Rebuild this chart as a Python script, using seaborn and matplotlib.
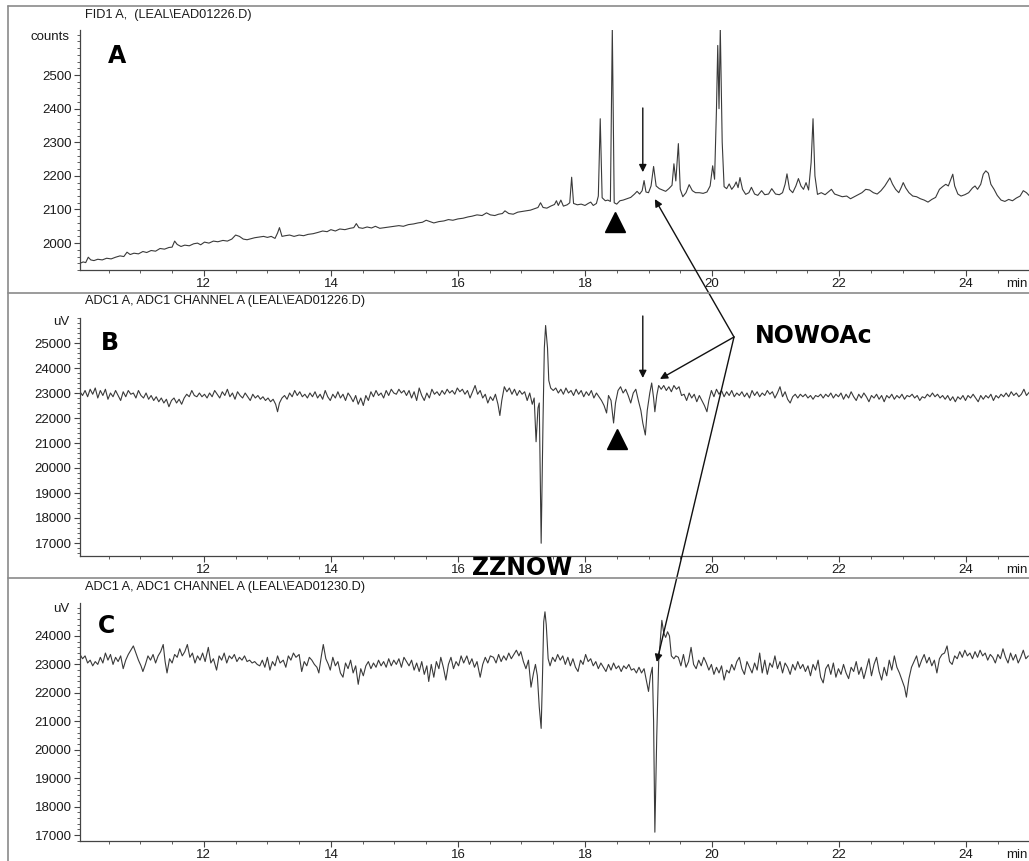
import matplotlib
matplotlib.use('Agg')
import matplotlib.pyplot as plt
from matplotlib.ticker import MultipleLocator
from matplotlib.lines import Line2D
import seaborn as sns
import pandas as pd

# ---------------- data (retention time [min], signal) ----------------
fid_points = [
    (10.05, 1940), (10.10, 1944), (10.14, 1942), (10.18, 1958), (10.22, 1950), (10.27, 1948), (10.33, 1952),
    (10.40, 1950), (10.47, 1955), (10.54, 1953), (10.61, 1958), (10.68, 1962), (10.74, 1960), (10.79, 1973),
    (10.84, 1966), (10.90, 1970), (10.97, 1968), (11.04, 1975), (11.10, 1972), (11.17, 1978), (11.24, 1976),
    (11.31, 1984), (11.38, 1982), (11.45, 1987), (11.50, 1988), (11.54, 2006), (11.58, 1996), (11.64, 1990),
    (11.70, 1994), (11.77, 1992), (11.84, 1998), (11.90, 2000), (11.95, 1995), (12.01, 2003), (12.08, 2000),
    (12.15, 2006), (12.22, 2004), (12.30, 2008), (12.37, 2006), (12.44, 2012), (12.50, 2024), (12.56, 2020),
    (12.62, 2012), (12.68, 2010), (12.74, 2013), (12.80, 2016), (12.87, 2018), (12.94, 2020), (13.00, 2017),
    (13.06, 2020), (13.12, 2014), (13.16, 2030), (13.19, 2046), (13.23, 2020), (13.28, 2022), (13.35, 2024),
    (13.42, 2020), (13.50, 2024), (13.57, 2022), (13.64, 2026), (13.72, 2028), (13.80, 2032), (13.87, 2036),
    (13.94, 2034), (14.00, 2040), (14.07, 2036), (14.14, 2042), (14.22, 2040), (14.30, 2044), (14.36, 2046),
    (14.40, 2058), (14.44, 2046), (14.50, 2044), (14.57, 2048), (14.64, 2045), (14.70, 2050), (14.77, 2044),
    (14.84, 2046), (14.92, 2048), (15.00, 2050), (15.07, 2052), (15.14, 2050), (15.22, 2055), (15.30, 2057),
    (15.37, 2060), (15.44, 2062), (15.50, 2068), (15.56, 2064), (15.62, 2060), (15.70, 2064), (15.78, 2066),
    (15.85, 2070), (15.92, 2068), (16.00, 2072), (16.08, 2074), (16.16, 2078), (16.22, 2080), (16.30, 2084),
    (16.38, 2082), (16.45, 2090), (16.51, 2084), (16.58, 2082), (16.64, 2086), (16.70, 2088), (16.74, 2096),
    (16.80, 2088), (16.87, 2086), (16.94, 2092), (17.00, 2094), (17.07, 2096), (17.14, 2098), (17.20, 2102),
    (17.26, 2106), (17.30, 2120), (17.34, 2106), (17.40, 2104), (17.46, 2110), (17.52, 2115), (17.55, 2126),
    (17.58, 2112), (17.62, 2128), (17.66, 2110), (17.72, 2114), (17.76, 2120), (17.79, 2196), (17.82, 2118),
    (17.88, 2114), (17.94, 2116), (18.00, 2112), (18.05, 2118), (18.09, 2122), (18.13, 2112), (18.18, 2118),
    (18.21, 2140), (18.24, 2370), (18.27, 2135), (18.32, 2126), (18.36, 2128), (18.40, 2124), (18.43, 2640),
    (18.46, 2120), (18.50, 2116), (18.55, 2126), (18.60, 2128), (18.66, 2132), (18.72, 2136), (18.78, 2146),
    (18.82, 2154), (18.86, 2146), (18.90, 2156), (18.93, 2186), (18.96, 2152), (19.00, 2150), (19.04, 2170),
    (19.08, 2228), (19.12, 2170), (19.17, 2162), (19.22, 2158), (19.27, 2154), (19.32, 2162), (19.37, 2172),
    (19.40, 2236), (19.43, 2185), (19.47, 2296), (19.50, 2160), (19.54, 2138), (19.59, 2150), (19.64, 2174),
    (19.69, 2156), (19.74, 2150), (19.80, 2150), (19.86, 2148), (19.92, 2152), (19.97, 2170), (20.01, 2230),
    (20.04, 2190), (20.07, 2400), (20.09, 2588), (20.11, 2400), (20.13, 2640), (20.16, 2300), (20.19, 2168),
    (20.23, 2162), (20.27, 2176), (20.31, 2160), (20.35, 2170), (20.38, 2182), (20.41, 2165), (20.44, 2195),
    (20.48, 2160), (20.53, 2145), (20.58, 2150), (20.62, 2166), (20.67, 2146), (20.72, 2142), (20.78, 2156),
    (20.83, 2144), (20.89, 2146), (20.94, 2162), (21.00, 2146), (21.06, 2144), (21.11, 2150), (21.15, 2175),
    (21.18, 2206), (21.22, 2160), (21.27, 2150), (21.32, 2170), (21.36, 2192), (21.40, 2170), (21.44, 2160),
    (21.48, 2180), (21.52, 2158), (21.56, 2240), (21.59, 2370), (21.62, 2200), (21.66, 2145), (21.72, 2150),
    (21.78, 2144), (21.83, 2152), (21.88, 2160), (21.93, 2146), (21.99, 2142), (22.05, 2138), (22.12, 2140),
    (22.18, 2132), (22.24, 2138), (22.30, 2144), (22.36, 2150), (22.42, 2160), (22.48, 2158), (22.54, 2150),
    (22.60, 2146), (22.66, 2156), (22.72, 2170), (22.77, 2185), (22.80, 2194), (22.84, 2176), (22.89, 2160),
    (22.94, 2150), (22.98, 2166), (23.01, 2180), (23.05, 2164), (23.10, 2150), (23.16, 2140), (23.22, 2138),
    (23.28, 2132), (23.34, 2128), (23.40, 2122), (23.46, 2130), (23.52, 2136), (23.58, 2160), (23.63, 2168),
    (23.68, 2175), (23.72, 2170), (23.76, 2190), (23.79, 2205), (23.82, 2170), (23.87, 2146), (23.92, 2140),
    (23.98, 2144), (24.04, 2150), (24.10, 2164), (24.14, 2170), (24.18, 2160), (24.23, 2175), (24.27, 2205),
    (24.31, 2215), (24.35, 2208), (24.39, 2175), (24.44, 2160), (24.49, 2142), (24.55, 2128), (24.61, 2124),
    (24.67, 2130), (24.73, 2126), (24.79, 2134), (24.85, 2140), (24.90, 2156), (24.95, 2150), (25.00, 2140),
]

ead1_points = [
    (10.05, 23050), (10.09, 22900), (10.13, 23100), (10.17, 22850), (10.21, 23150), (10.25, 22950), (10.29, 23200),
    (10.33, 22800), (10.37, 23100), (10.41, 22900), (10.45, 23150), (10.49, 22750), (10.53, 23000), (10.57, 22850),
    (10.61, 23100), (10.65, 22900), (10.69, 22700), (10.73, 23050), (10.77, 22850), (10.81, 23100), (10.85, 22950),
    (10.89, 23000), (10.93, 22800), (10.97, 23100), (11.01, 22900), (11.05, 22800), (11.09, 23000), (11.13, 22750),
    (11.17, 22900), (11.21, 22700), (11.25, 22850), (11.29, 22650), (11.33, 22800), (11.37, 22600), (11.41, 22750),
    (11.45, 22450), (11.49, 22700), (11.53, 22800), (11.57, 22600), (11.61, 22750), (11.65, 22550), (11.69, 22800),
    (11.73, 22950), (11.77, 22850), (11.81, 23100), (11.85, 22900), (11.89, 22850), (11.93, 23000), (11.97, 22850),
    (12.01, 22950), (12.05, 22800), (12.09, 23000), (12.13, 22850), (12.17, 23100), (12.21, 22950), (12.25, 22800),
    (12.29, 23050), (12.33, 22900), (12.37, 23150), (12.41, 22850), (12.45, 23000), (12.49, 22750), (12.53, 23050),
    (12.57, 22900), (12.61, 22800), (12.65, 23000), (12.69, 22850), (12.73, 22700), (12.77, 22950), (12.81, 22800),
    (12.85, 22900), (12.89, 22750), (12.93, 22850), (12.97, 22700), (13.01, 22800), (13.05, 22650), (13.09, 22750),
    (13.13, 22550), (13.16, 22250), (13.19, 22600), (13.23, 22800), (13.27, 22900), (13.31, 22750), (13.35, 23000),
    (13.39, 22850), (13.43, 23100), (13.47, 22900), (13.51, 23050), (13.55, 22850), (13.59, 22950), (13.63, 22800),
    (13.67, 23000), (13.71, 22850), (13.75, 23050), (13.79, 22800), (13.83, 22950), (13.87, 22750), (13.91, 23100),
    (13.95, 22850), (13.99, 22700), (14.03, 22950), (14.07, 22800), (14.11, 23050), (14.15, 22800), (14.19, 22950),
    (14.23, 22700), (14.27, 23000), (14.31, 22850), (14.35, 22650), (14.39, 22900), (14.43, 22550), (14.47, 22800),
    (14.51, 22500), (14.55, 22900), (14.59, 22700), (14.63, 23050), (14.67, 22850), (14.71, 23100), (14.75, 22900),
    (14.79, 23000), (14.83, 22800), (14.87, 23100), (14.91, 22900), (14.95, 23150), (14.99, 23000), (15.03, 22950),
    (15.07, 23150), (15.11, 23000), (15.15, 23100), (15.19, 22900), (15.23, 23100), (15.27, 22800), (15.31, 23050),
    (15.35, 22700), (15.39, 23200), (15.43, 22900), (15.47, 22700), (15.51, 23000), (15.55, 22800), (15.59, 23150),
    (15.63, 22950), (15.67, 23050), (15.71, 22900), (15.75, 23100), (15.79, 22950), (15.83, 23150), (15.87, 23000),
    (15.91, 23100), (15.95, 22950), (15.99, 23200), (16.03, 23050), (16.07, 23150), (16.11, 22950), (16.15, 23100),
    (16.19, 22800), (16.23, 23050), (16.27, 23300), (16.31, 22950), (16.35, 23100), (16.39, 22800), (16.43, 22950),
    (16.47, 22600), (16.51, 22850), (16.55, 22700), (16.59, 22950), (16.63, 22550), (16.66, 22100), (16.69, 22700),
    (16.73, 23250), (16.77, 23050), (16.81, 23200), (16.85, 22950), (16.89, 23150), (16.93, 22900), (16.97, 23100),
    (17.01, 22950), (17.05, 23050), (17.09, 22700), (17.13, 23000), (17.17, 22550), (17.20, 22800), (17.23, 21050),
    (17.26, 22400), (17.28, 22600), (17.31, 16990), (17.34, 22000), (17.36, 24800), (17.38, 25700), (17.41, 24800),
    (17.43, 23500), (17.46, 23200), (17.50, 23100), (17.54, 23200), (17.58, 23000), (17.62, 23150), (17.66, 22950),
    (17.70, 23200), (17.74, 23000), (17.78, 23100), (17.82, 22900), (17.86, 23150), (17.90, 22950), (17.94, 23100),
    (17.98, 22850), (18.02, 23050), (18.06, 22900), (18.10, 23100), (18.14, 22800), (18.18, 23000), (18.22, 22850),
    (18.26, 22700), (18.30, 22500), (18.34, 22200), (18.37, 22900), (18.41, 22700), (18.45, 21800), (18.48, 22600),
    (18.52, 23100), (18.56, 23250), (18.60, 23000), (18.64, 23150), (18.68, 22900), (18.72, 22600), (18.76, 23000),
    (18.80, 23150), (18.84, 22700), (18.88, 22300), (18.91, 21800), (18.95, 21320), (18.98, 22300), (19.02, 23000),
    (19.05, 23400), (19.08, 22800), (19.10, 22250), (19.13, 22900), (19.16, 23300), (19.20, 23150), (19.24, 23300),
    (19.28, 23100), (19.32, 23250), (19.36, 23050), (19.40, 23300), (19.44, 23150), (19.48, 23250), (19.52, 22900),
    (19.56, 22950), (19.60, 22700), (19.64, 23000), (19.68, 22800), (19.72, 22950), (19.76, 22650), (19.80, 22900),
    (19.84, 22700), (19.88, 22500), (19.92, 22250), (19.95, 22700), (19.99, 23100), (20.03, 22850), (20.07, 23150),
    (20.11, 22950), (20.15, 23100), (20.19, 22850), (20.23, 23050), (20.27, 22900), (20.31, 23100), (20.35, 22850),
    (20.39, 23000), (20.43, 22900), (20.47, 23050), (20.51, 22850), (20.55, 23000), (20.59, 22800), (20.63, 23100),
    (20.67, 22900), (20.71, 23050), (20.75, 22850), (20.79, 23000), (20.83, 22900), (20.87, 23100), (20.91, 22950),
    (20.95, 23050), (20.99, 22800), (21.03, 23000), (21.07, 23250), (21.11, 22850), (21.15, 23050), (21.19, 22750),
    (21.23, 22600), (21.27, 22850), (21.31, 22950), (21.35, 22800), (21.39, 22950), (21.43, 22850), (21.47, 22950),
    (21.51, 22800), (21.55, 22900), (21.59, 22750), (21.63, 22900), (21.67, 22850), (21.71, 22950), (21.75, 22800),
    (21.79, 22950), (21.83, 22850), (21.87, 23000), (21.91, 22800), (21.95, 22950), (21.99, 22850), (22.03, 23000),
    (22.07, 22750), (22.11, 22950), (22.15, 22800), (22.19, 23050), (22.23, 22850), (22.27, 22700), (22.31, 22950),
    (22.35, 22800), (22.39, 23000), (22.43, 22850), (22.47, 22650), (22.51, 22900), (22.55, 22800), (22.59, 22950),
    (22.63, 22750), (22.67, 22900), (22.71, 22650), (22.75, 22900), (22.79, 22800), (22.83, 22950), (22.87, 22750),
    (22.91, 22900), (22.95, 22800), (22.99, 22950), (23.03, 22750), (23.07, 22900), (23.11, 22850), (23.15, 22950),
    (23.19, 22800), (23.23, 22900), (23.27, 22700), (23.31, 22850), (23.35, 22800), (23.39, 22950), (23.43, 22850),
    (23.47, 23000), (23.51, 22850), (23.55, 22950), (23.59, 22800), (23.63, 22900), (23.67, 22750), (23.71, 22900),
    (23.75, 22700), (23.79, 22850), (23.83, 22650), (23.87, 22850), (23.91, 22750), (23.95, 22900), (23.99, 22700),
    (24.03, 22900), (24.07, 22800), (24.11, 22950), (24.15, 22800), (24.19, 22650), (24.23, 22900), (24.27, 22750),
    (24.31, 22900), (24.35, 22800), (24.39, 22950), (24.43, 22700), (24.47, 22900), (24.51, 22800), (24.55, 22950),
    (24.59, 22850), (24.63, 23000), (24.67, 22850), (24.71, 23050), (24.75, 22900), (24.79, 23000), (24.83, 22850),
    (24.87, 22950), (24.91, 23150), (24.95, 22900), (25.00, 23050),
]

ead2_points = [
    (10.05, 23350), (10.09, 23200), (10.13, 23300), (10.17, 23050), (10.21, 23150), (10.25, 22950), (10.29, 23100),
    (10.33, 23000), (10.37, 23250), (10.41, 23050), (10.45, 23400), (10.49, 23150), (10.53, 23350), (10.57, 23000),
    (10.61, 23250), (10.65, 23100), (10.69, 23300), (10.73, 22850), (10.77, 23150), (10.81, 23350), (10.85, 23500),
    (10.89, 23650), (10.93, 23400), (10.97, 23150), (11.01, 22950), (11.04, 22750), (11.08, 23000), (11.12, 23300),
    (11.16, 23150), (11.20, 23350), (11.24, 23050), (11.28, 23300), (11.32, 23450), (11.36, 23700), (11.39, 23100),
    (11.42, 22700), (11.46, 23200), (11.50, 23050), (11.54, 23350), (11.58, 23250), (11.62, 23550), (11.66, 23300),
    (11.70, 23450), (11.74, 23700), (11.78, 23250), (11.82, 23400), (11.86, 23050), (11.90, 23300), (11.94, 23150),
    (11.98, 23400), (12.02, 23100), (12.07, 23600), (12.11, 23050), (12.15, 23200), (12.20, 22800), (12.24, 23300),
    (12.28, 23150), (12.32, 23400), (12.36, 23050), (12.40, 23300), (12.44, 23200), (12.48, 23350), (12.52, 23100),
    (12.56, 23250), (12.60, 23150), (12.64, 23300), (12.68, 23100), (12.72, 23150), (12.76, 23050), (12.80, 23100),
    (12.84, 23000), (12.88, 22950), (12.92, 23150), (12.96, 22900), (13.00, 23250), (13.04, 22800), (13.08, 23100),
    (13.12, 22950), (13.16, 23300), (13.20, 23050), (13.25, 23150), (13.29, 22900), (13.33, 23300), (13.37, 23150),
    (13.41, 23400), (13.45, 23250), (13.50, 23350), (13.54, 22750), (13.58, 23100), (13.62, 22950), (13.66, 23250),
    (13.70, 23150), (13.74, 23000), (13.78, 22900), (13.81, 22700), (13.85, 23300), (13.88, 23700), (13.92, 23200),
    (13.96, 23000), (13.99, 22800), (14.03, 23250), (14.07, 22950), (14.11, 23100), (14.15, 22700), (14.19, 22550),
    (14.23, 23050), (14.27, 22850), (14.31, 23150), (14.35, 22700), (14.39, 22950), (14.43, 22300), (14.47, 22850),
    (14.51, 22600), (14.55, 22950), (14.59, 23100), (14.63, 22850), (14.67, 23050), (14.71, 22900), (14.75, 23150),
    (14.79, 22950), (14.83, 23100), (14.87, 22900), (14.91, 23200), (14.95, 22950), (14.99, 23150), (15.03, 23000),
    (15.07, 23200), (15.11, 22900), (15.15, 23250), (15.19, 23100), (15.23, 22950), (15.27, 23150), (15.31, 22800),
    (15.35, 23050), (15.39, 22750), (15.43, 23100), (15.47, 22650), (15.51, 22950), (15.54, 22400), (15.58, 23000),
    (15.62, 22550), (15.66, 23100), (15.70, 22850), (15.73, 23250), (15.77, 22900), (15.81, 22450), (15.85, 23000),
    (15.89, 23250), (15.93, 22850), (15.97, 23100), (16.01, 22950), (16.05, 23300), (16.09, 23050), (16.14, 23300),
    (16.18, 23000), (16.22, 23200), (16.26, 22900), (16.30, 23100), (16.35, 22550), (16.39, 23000), (16.43, 23250),
    (16.47, 23050), (16.51, 23300), (16.56, 23250), (16.60, 23050), (16.64, 23350), (16.68, 23100), (16.72, 23300),
    (16.76, 23150), (16.80, 23400), (16.84, 23200), (16.88, 23350), (16.92, 23500), (16.96, 23300), (16.99, 23450),
    (17.03, 23100), (17.07, 22850), (17.11, 23150), (17.15, 22200), (17.19, 22700), (17.22, 23000), (17.25, 22600),
    (17.28, 21500), (17.31, 20750), (17.33, 22500), (17.35, 24500), (17.37, 24850), (17.39, 24400), (17.42, 23200),
    (17.45, 22950), (17.49, 23250), (17.53, 23100), (17.57, 23350), (17.61, 23150), (17.65, 23300), (17.69, 23000),
    (17.73, 23250), (17.77, 22950), (17.81, 23200), (17.85, 22900), (17.89, 22750), (17.93, 23150), (17.97, 23000),
    (18.01, 23350), (18.05, 23100), (18.09, 23200), (18.13, 22950), (18.17, 23100), (18.21, 22850), (18.25, 23050),
    (18.29, 22900), (18.33, 22750), (18.37, 23000), (18.41, 22800), (18.45, 23050), (18.49, 22850), (18.53, 22950),
    (18.57, 22750), (18.61, 22950), (18.65, 22850), (18.69, 23000), (18.73, 22800), (18.77, 22850), (18.81, 22700),
    (18.85, 22900), (18.89, 22700), (18.93, 22850), (18.97, 22400), (19.00, 22050), (19.03, 22600), (19.06, 22900),
    (19.08, 21000), (19.10, 17100), (19.13, 20500), (19.16, 23100), (19.19, 24000), (19.21, 24550), (19.24, 24100),
    (19.27, 23950), (19.30, 24150), (19.33, 24000), (19.36, 23300), (19.40, 23200), (19.43, 23300), (19.47, 23250),
    (19.51, 22950), (19.55, 23350), (19.59, 22900), (19.63, 23100), (19.67, 23600), (19.71, 23000), (19.75, 22850),
    (19.79, 23150), (19.83, 22950), (19.87, 23250), (19.91, 23050), (19.95, 22800), (19.99, 23000), (20.03, 22650),
    (20.07, 22900), (20.11, 22700), (20.15, 22950), (20.19, 22450), (20.23, 22800), (20.27, 22700), (20.31, 23000),
    (20.35, 22800), (20.39, 23100), (20.43, 23250), (20.47, 22850), (20.51, 22650), (20.55, 23100), (20.59, 22900),
    (20.63, 22700), (20.67, 23050), (20.71, 22800), (20.75, 23400), (20.79, 22700), (20.83, 23150), (20.87, 22650),
    (20.91, 23050), (20.95, 22900), (20.99, 23300), (21.03, 22850), (21.07, 23100), (21.11, 22700), (21.15, 23050),
    (21.19, 22900), (21.23, 22650), (21.27, 23000), (21.31, 22800), (21.35, 23100), (21.39, 22850), (21.43, 23000),
    (21.47, 22750), (21.51, 22950), (21.55, 22600), (21.59, 23000), (21.63, 22800), (21.67, 23150), (21.71, 22550),
    (21.75, 22350), (21.79, 22850), (21.83, 23000), (21.87, 22650), (21.91, 23050), (21.95, 22550), (21.99, 22850),
    (22.03, 22650), (22.07, 23000), (22.11, 22700), (22.15, 22500), (22.19, 22900), (22.23, 22750), (22.27, 23100),
    (22.31, 22650), (22.35, 22900), (22.39, 22500), (22.43, 22850), (22.47, 23200), (22.51, 22600), (22.55, 23000),
    (22.59, 23250), (22.63, 22750), (22.67, 22450), (22.71, 22900), (22.75, 22600), (22.79, 23150), (22.83, 22800),
    (22.87, 23300), (22.91, 22900), (22.95, 22700), (22.99, 22450), (23.03, 22200), (23.06, 21850), (23.10, 22500),
    (23.14, 22900), (23.18, 23100), (23.22, 23300), (23.26, 22900), (23.30, 23150), (23.34, 23350), (23.38, 23050),
    (23.42, 23250), (23.46, 22950), (23.50, 23150), (23.54, 22700), (23.58, 23200), (23.62, 23350), (23.66, 23400),
    (23.70, 23650), (23.74, 23100), (23.78, 23000), (23.82, 23300), (23.86, 23200), (23.90, 23450), (23.94, 23250),
    (23.98, 23500), (24.02, 23300), (24.06, 23400), (24.10, 23200), (24.14, 23450), (24.18, 23250), (24.22, 23500),
    (24.26, 23300), (24.30, 23400), (24.34, 23150), (24.38, 23350), (24.42, 23250), (24.46, 23050), (24.50, 23350),
    (24.54, 23200), (24.58, 23550), (24.62, 23250), (24.66, 23050), (24.70, 23400), (24.74, 23150), (24.78, 23350),
    (24.82, 23050), (24.86, 23250), (24.90, 23500), (24.94, 23200), (24.98, 23300),
]

panel_titles = [r'FID1 A,  (LEAL\EAD01226.D)',
                r'ADC1 A, ADC1 CHANNEL A (LEAL\EAD01226.D)',
                r'ADC1 A, ADC1 CHANNEL A (LEAL\EAD01230.D)']
panel_letters = ['A', 'B', 'C']
unit_labels = ['counts', 'uV', 'uV']
x_ticks = [12, 14, 16, 18, 20, 22, 24]
fid_yticks = [2000, 2100, 2200, 2300, 2400, 2500]
ead1_yticks = [17000, 18000, 19000, 20000, 21000, 22000, 23000, 24000, 25000]
ead2_yticks = [17000, 18000, 19000, 20000, 21000, 22000, 23000, 24000]

# annotation anchors (retention time, signal)
nowoac_targets = [(19.10, 2131), (19.18, 23560), (19.13, 23085)]
down_arrow_rt = 18.91
fid_down_arrow = (2402, 2211)
ead1_down_arrow = (26080, 23600)
triangle_rt = [18.47, 18.50]
triangle_val = [2062, 21160]

# ---------------- figure ----------------
sns.set_style('ticks')
plt.rcParams['font.family'] = ['Liberation Sans', 'DejaVu Sans']

W, H = 1029, 861
fig = plt.figure(figsize=(W / 100, H / 100), dpi=100)


def rect(top, bottom, left=80, right=1029):
    return [left / W, 1 - bottom / H, (right - left) / W, (bottom - top) / H]


axA = fig.add_axes(rect(30, 270))
axB = fig.add_axes(rect(318, 556))
axC = fig.add_axes(rect(603, 841))
axes = [axA, axB, axC]
series = [fid_points, ead1_points, ead2_points]
ylims = [(1920, 2634), (16480, 26000), (16790, 25160)]
yticks = [fid_yticks, ead1_yticks, ead2_yticks]
yminor = [20, 200, 200]
title_y = [1.0625, 1.071, 1.067]
unit_y = [0.971, 0.983, 0.975]
letter_pos = [(0.039, 0.892), (0.032, 0.895), (0.028, 0.903)]

trace_color = '#3a3a3a'
axis_color = '#444444'

for i, ax in enumerate(axes):
    df = pd.DataFrame(series[i], columns=['t', 'v'])
    sns.lineplot(data=df, x='t', y='v', ax=ax, color=trace_color, lw=0.8,
                 estimator=None, sort=False, legend=False)
    ax.patch.set_alpha(0)
    ax.set_xlim(10.05, 24.99)
    ax.set_ylim(*ylims[i])
    ax.set_xticks(x_ticks)
    ax.set_yticks(yticks[i])
    ax.xaxis.set_minor_locator(MultipleLocator(0.5))
    ax.yaxis.set_minor_locator(MultipleLocator(yminor[i]))
    ax.set_xlabel('')
    ax.set_ylabel('')
    sns.despine(ax=ax)
    for s in ['left', 'bottom']:
        ax.spines[s].set_color(axis_color)
        ax.spines[s].set_linewidth(0.9)
    ax.tick_params(which='major', length=4, width=0.8, color=axis_color,
                   labelsize=9.5, labelcolor='#1a1a1a', pad=2)
    ax.tick_params(which='minor', length=2, width=0.6, color=axis_color)
    ax.text(0.005, title_y[i], panel_titles[i], transform=ax.transAxes,
            fontsize=9.2, color='#1a1a1a', ha='left', va='center')
    ax.text(-0.011, unit_y[i], unit_labels[i], transform=ax.transAxes,
            fontsize=9.5, color='#1a1a1a', ha='right', va='center')
    ax.text(0.998, -0.035, 'min', transform=ax.transAxes,
            fontsize=9.5, color='#1a1a1a', ha='right', va='top')
    lx, ly = letter_pos[i]
    ax.text(lx, ly, panel_letters[i], transform=ax.transAxes,
            fontsize=17, fontweight='bold', family='DejaVu Sans',
            ha='center', va='center', color='black')

# panel frame lines
frame_color = '#8a8a8a'
fig.add_artist(Line2D([8 / W, 1], [1 - 6 / H, 1 - 6 / H], color=frame_color, lw=1.2))
fig.add_artist(Line2D([8 / W, 8 / W], [0, 1 - 6 / H], color=frame_color, lw=1.2))
fig.add_artist(Line2D([8 / W, 1], [1 - 293 / H, 1 - 293 / H], color=frame_color, lw=1.2))
fig.add_artist(Line2D([8 / W, 1], [1 - 578 / H, 1 - 578 / H], color=frame_color, lw=1.2))

# NOWOAc arrows from a common point
conv = (734, H - 337)
for ax, xy in zip(axes, nowoac_targets):
    ax.annotate('', xy=xy, xycoords='data', xytext=conv, textcoords='figure pixels',
                arrowprops=dict(arrowstyle='-|>', color='#111111', lw=1.0,
                                shrinkA=0, shrinkB=0, mutation_scale=11),
                annotation_clip=False)

# vertical arrows
for ax, (y0, y1) in [(axA, fid_down_arrow), (axB, ead1_down_arrow)]:
    ax.annotate('', xy=(down_arrow_rt, y1), xytext=(down_arrow_rt, y0),
                arrowprops=dict(arrowstyle='-|>', color='#111111', lw=1.0,
                                shrinkA=0, shrinkB=0, mutation_scale=11),
                annotation_clip=False)

# filled triangles
for ax, t, v in zip([axA, axB], triangle_rt, triangle_val):
    ax.plot([t], [v], marker='^', ms=14, color='black', clip_on=False, ls='none')

fig.text(755 / W, 1 - 336 / H, 'NOWOAc', fontsize=17, fontweight='bold',
         family='DejaVu Sans', ha='left', va='center', color='black')
fig.text(472 / W, 1 - 568 / H, 'ZZNOW', fontsize=17, fontweight='bold',
         family='DejaVu Sans', ha='left', va='center', color='black')

fig.savefig('out.png', dpi=100)
